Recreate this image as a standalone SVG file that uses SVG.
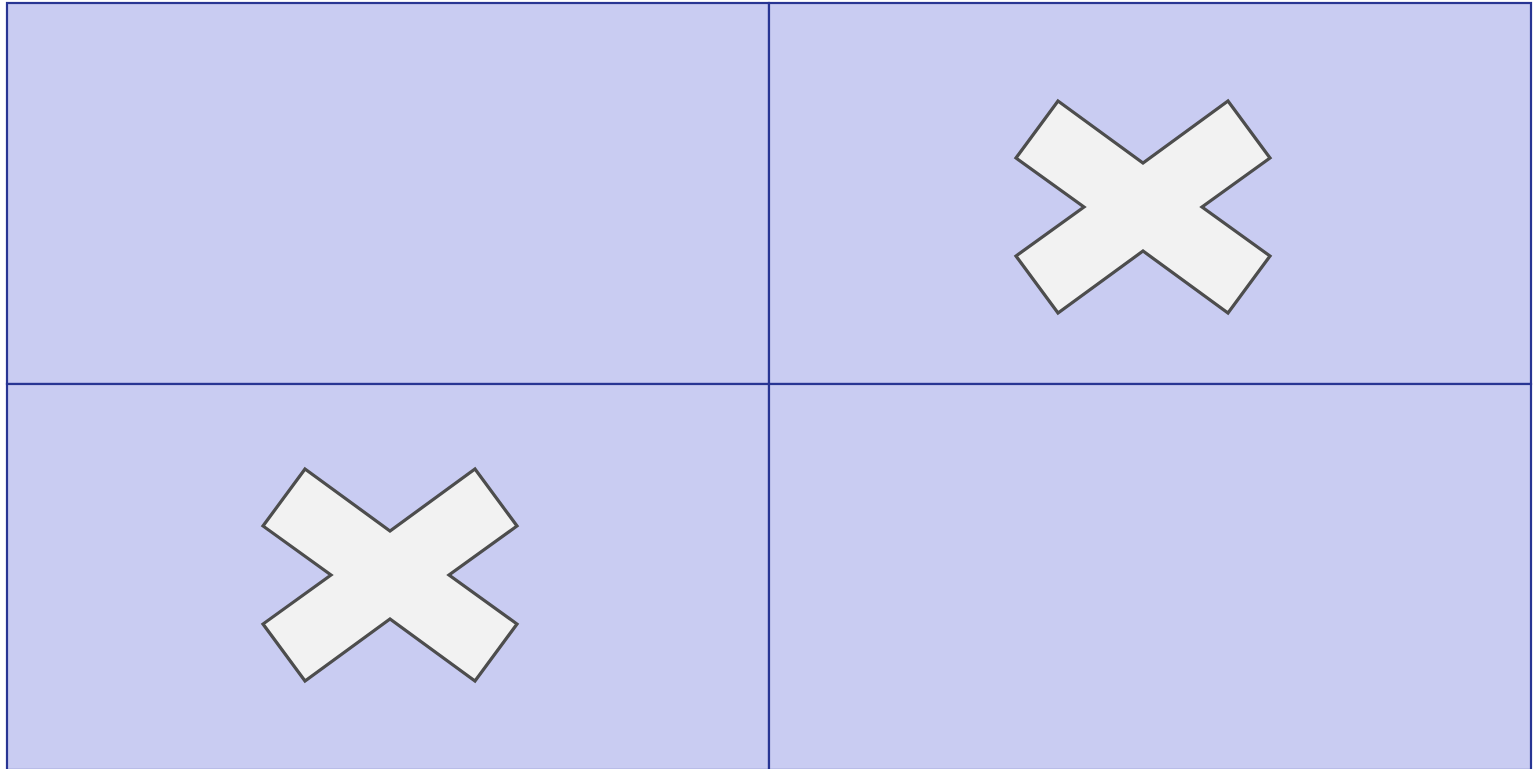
<svg xmlns="http://www.w3.org/2000/svg" width="1539" height="769" viewBox="0 0 1539 769">
<defs>
<style>
.cell{fill:#c9ccf2;stroke:#283593;stroke-width:2.2}
.x{fill:#f2f2f2;stroke:#4d4d4d;stroke-width:3.2;stroke-linejoin:miter}
</style>
<polygon id="cross" points="-85,-106 0,-44 85,-106 127,-49 59,0 127,49 85,106 0,44 -85,106 -127,49 -59,0 -127,-49"/>
</defs>
<rect width="1539" height="769" fill="#ffffff"/>
<g id="cell-tl"><rect class="cell" x="7" y="3" width="762" height="381"/></g>
<g id="cell-tr"><rect class="cell" x="769" y="3" width="762" height="381"/></g>
<g id="cell-bl"><rect class="cell" x="7" y="384" width="762" height="386"/></g>
<g id="cell-br"><rect class="cell" x="769" y="384" width="762" height="386"/></g>
<g id="x-tr"><use href="#cross" class="x" transform="translate(1143,207)"/></g>
<g id="x-bl"><use href="#cross" class="x" transform="translate(390,575)"/></g>
</svg>
